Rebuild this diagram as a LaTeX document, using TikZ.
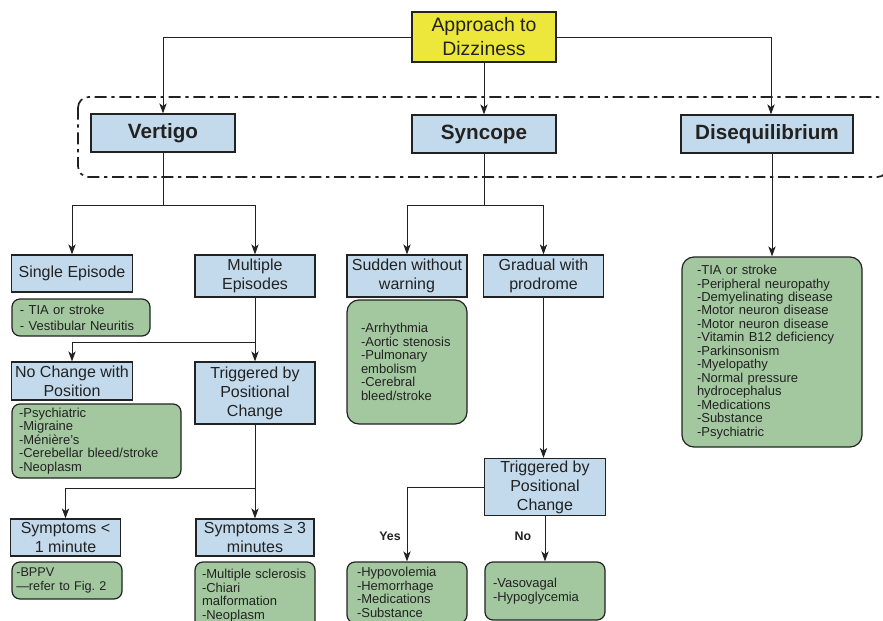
\documentclass[tikz,border=0pt]{standalone}
\usepackage{fontspec}
\setmainfont{Liberation Sans}
\usetikzlibrary{arrows.meta}
\definecolor{bluefill}{HTML}{C3DAEC}
\definecolor{greenfill}{HTML}{A3C89F}
\definecolor{yellowfill}{HTML}{EDE73C}
\definecolor{ink}{HTML}{222222}
\frenchspacing
\begin{document}
\begin{tikzpicture}[x=0.75pt,y=-0.75pt,
  sz/.style 2 args={minimum width=#1*0.75pt, minimum height=#2*0.75pt},
  bbox/.style={draw=ink, line width=0.9pt, fill=bluefill, align=center, inner sep=0pt, text=ink, font=\fontsize{12}{14.3}\selectfont},
  head/.style={bbox, font=\fontsize{15.5}{18}\selectfont\bfseries},
  topbox/.style={bbox, fill=yellowfill, font=\fontsize{14.6}{18}\selectfont},
  gbox/.style={draw=ink, line width=0.9pt, fill=greenfill, rounded corners=6pt, align=left, inner ysep=0pt, text=ink, font=\fontsize{9.75}{10.1}\selectfont},
  link/.style={draw=ink, line width=0.75pt},
  arr/.style={link, -{Stealth[length=7.5pt,width=5.5pt,inset=2pt]}},
  lbl/.style={inner sep=0pt, text=ink, font=\fontsize{9.3}{10}\selectfont\bfseries},
]
\useasboundingbox (0,0) rectangle (883,621);
% dash-dot frame
\draw[ink, line width=1.3pt, dash pattern=on 9pt off 3.5pt on 2.5pt off 3.5pt, rounded corners=8pt] (78,97) rectangle (888,177);

% top
\node[topbox, sz={144}{50}] (app) at (484,37) {Approach to\\Dizziness};
\node[head, sz={144}{38}] (vert) at (163,133) {Vertigo};
\node[head, sz={144}{38}] (sync) at (484,134) {Syncope};
\node[head, sz={172}{38}] (diseq) at (767,134) {Disequilibrium};

% vertigo branch
\node[bbox, sz={121}{37}] (single) at (72,273.5) {Single Episode};
\node[bbox, sz={120}{42}] (mult) at (255,276) {Multiple\\Episodes};
\node[gbox, text width=91.5pt, inner xsep=6pt, minimum height=27.75pt, font=\fontsize{9.75}{12}\selectfont] (g1) at (81,317.5) {- TIA or stroke\\- Vestibular Neuritis};
\node[bbox, sz={121}{38}] (nochg) at (72,381) {No Change with\\Position};
\node[bbox, sz={120}{62}] (trig1) at (255,393) {Triggered by\\Positional\\Change};
\node[gbox, text width=116.25pt, inner xsep=5.25pt, minimum height=55.5pt] (g2) at (96.5,441) {-Psychiatric\\-Migraine\\-Ménière’s\\-Cerebellar bleed/stroke\\-Neoplasm};
\node[bbox, sz={110}{37}] (symless) at (65.5,537.5) {Symptoms <\\1 minute};
\node[bbox, sz={118}{37}] (symgeq) at (255,537.5) {Symptoms ≥ 3\\minutes};
\node[gbox, text width=76pt, inner xsep=3.25pt, minimum height=27.75pt, font=\fontsize{9.5}{10.6}\selectfont] (g3) at (67,580.5) {-BPPV\\—refer to Fig. 2};
\node[gbox, text width=79.5pt, inner xsep=5.25pt, minimum height=50.25pt] (g4) at (255,595.5) {-Multiple sclerosis\\-Chiari\\malformation\\-Neoplasm};

% syncope branch
\node[bbox, sz={120}{42}] (sudden) at (407,276) {Sudden without\\warning};
\node[bbox, sz={120}{42}] (gradual) at (543.5,276) {Gradual with\\prodrome};
\node[gbox, rounded corners=9pt, text width=69pt, inner xsep=10.5pt, minimum height=93pt] (g5) at (407,362) {-Arrhythmia\\-Aortic stenosis\\-Pulmonary\\embolism\\-Cerebral\\bleed/stroke};
\node[bbox, sz={121}{57}] (trig2) at (545,487) {Triggered by\\Positional\\Change};
\node[gbox, text width=75pt, inner xsep=7.5pt, minimum height=45.75pt] (hypo) at (407,592.5) {-Hypovolemia\\-Hemorrhage\\-Medications\\-Substance};
\node[gbox, text width=78pt, inner xsep=6pt, minimum height=43.5pt] (vaso) at (545,591) {-Vasovagal\\-Hypoglycemia};
\node[lbl] (yes) at (390,536) {Yes};
\node[lbl] (no) at (523,536) {No};

% disequilibrium branch
\node[gbox, rounded corners=9pt, text width=112.5pt, inner xsep=11.25pt, minimum height=142.5pt] (big) at (772,352) {-TIA or stroke\\-Peripheral neuropathy\\-Demyelinating disease\\-Motor neuron disease\\-Motor neuron disease\\-Vitamin B12 deficiency\\-Parkinsonism\\-Myelopathy\\-Normal pressure\\hydrocephalus\\-Medications\\-Substance\\-Psychiatric};

% connectors
\draw[arr] (app.west) -| (vert.north);
\draw[arr] (app.south) -- (sync.north);
\draw[arr] (app.east) -| ([xshift=3pt]diseq.north);

\coordinate (vj) at (163,205);
\draw[link] (vert.south) -- (vj);
\draw[arr] (vj) -| (single.north);
\draw[arr] (vj) -| (mult.north);

\coordinate (mj) at (255,342);
\draw[arr] (mult.south) -- (trig1.north);
\draw[arr] (mj) -| (nochg.north);

\coordinate (tj) at (255,488);
\draw[arr] (trig1.south) -- (symgeq.north);
\draw[arr] (tj) -| (symless.north);

\coordinate (sj) at (484,205);
\draw[link] (sync.south) -- (sj);
\draw[arr] (sj) -| (sudden.north);
\draw[arr] (sj) -| (gradual.north);
\draw[arr] (gradual.south) -- (gradual.south |- trig2.north);
\draw[arr] (trig2.west) -| (hypo.north);
\draw[arr] (trig2.south) -- (vaso.north);

\draw[arr] (big.north |- diseq.south) -- (big.north);
\end{tikzpicture}
\end{document}
